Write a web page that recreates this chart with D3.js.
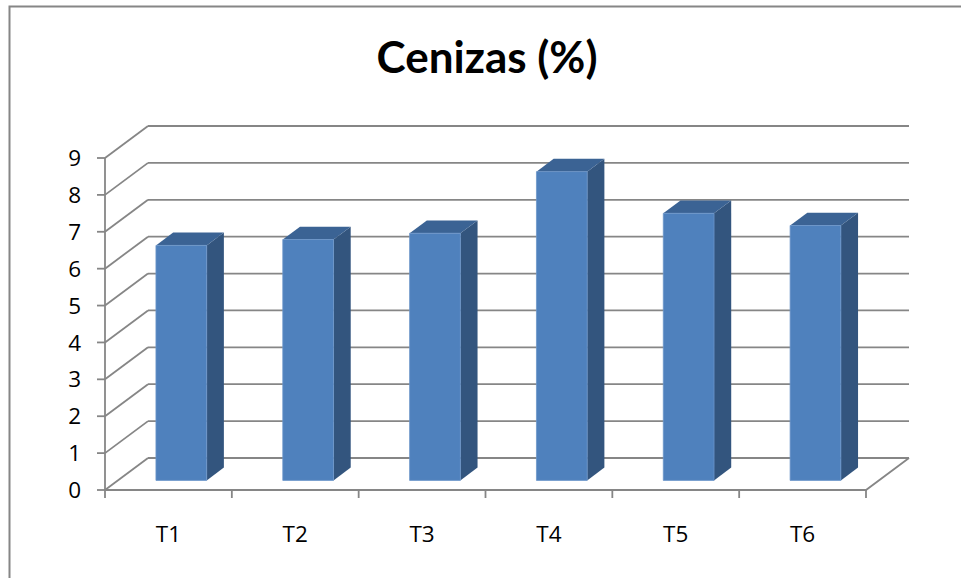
<!DOCTYPE html>
<html>
<head>
<meta charset="utf-8">
<script src="https://cdn.jsdelivr.net/npm/d3@7"></script>
<style>
  body { margin: 0; background: #fff; }
  svg { display: block; }
  text { font-family: "Open Sans", Lato, sans-serif; fill: #000; }
  .title { font-family: Lato, "Open Sans", sans-serif; }
</style>
</head>
<body>
<div id="chart"></div>
<script>
// ==================================================
// DATA
// ==================================================

var categories = ["T1", "T2", "T3", "T4", "T5", "T6"];
var cenizas    = [6.37, 6.53, 6.70, 8.37, 7.24, 6.91];
var yTicks     = [0, 1, 2, 3, 4, 5, 6, 7, 8, 9];
var chartTitle = "Cenizas (%)";

// ==================================================
// LAYOUT
// ==================================================

var width  = 961, height = 578;
var origin = { x: 105, y: 490 };      // front-left corner of the floor
var plotW  = 761;                     // front width of the floor
var plotH  = 332;                     // height from 0 to 9
var depth  = { dx: 43, dy: -32 };     // 3D depth offset
var barD0  = 0.3, barD1 = 0.7;        // bar depth span (fraction)

var svg = d3.select("#chart")
  .append("svg")
    .attr("width", width)
    .attr("height", height);

// Scales
var x = d3.scaleBand()
  .domain(categories)
  .range([0, plotW])
  .paddingInner(0.6)
  .paddingOuter(0.3);

var y = d3.scaleLinear()
  .domain([0, 9])
  .range([0, plotH]);

// project (front x, value, depth fraction) to screen
function P(xf, v, d) {
  return [origin.x + xf + d * depth.dx, origin.y + d * depth.dy - y(v)];
}
function poly(pts) {
  return "M" + pts.map(function(p) { return p.join(","); }).join("L") + "Z";
}

// Outer border
svg.append("rect")
  .attr("x", 9.5).attr("y", 6.5)
  .attr("width", 1000).attr("height", 700)
  .attr("fill", "none")
  .attr("stroke", "#868686")
  .attr("stroke-width", 2);

// Title
svg.append("text")
  .attr("class", "title")
  .attr("x", 487)
  .attr("y", 73)
  .attr("text-anchor", "middle")
  .attr("font-size", "44px")
  .attr("font-weight", "bold")
  .text(chartTitle);

var gridColor = "#868686";
var grid = svg.append("g")
  .attr("stroke", gridColor)
  .attr("stroke-width", 1.8)
  .attr("fill", "none");

// Back wall gridlines
grid.selectAll(".back")
  .data(yTicks)
  .enter()
  .append("line")
    .attr("class", "back")
    .attr("x1", function(v) { return P(0, v, 1)[0]; })
    .attr("y1", function(v) { return P(0, v, 1)[1]; })
    .attr("x2", function(v) { return P(plotW, v, 1)[0]; })
    .attr("y2", function(v) { return P(plotW, v, 1)[1]; });

// Side wall diagonals
grid.selectAll(".side")
  .data(yTicks)
  .enter()
  .append("line")
    .attr("class", "side")
    .attr("x1", function(v) { return P(0, v, 0)[0]; })
    .attr("y1", function(v) { return P(0, v, 0)[1]; })
    .attr("x2", function(v) { return P(0, v, 1)[0]; })
    .attr("y2", function(v) { return P(0, v, 1)[1]; });

// Floor front edge and right edge
grid.append("path")
  .attr("d", "M" + P(0, 0, 0).join(",") + "L" + P(plotW, 0, 0).join(",") +
             "L" + P(plotW, 0, 1).join(","));

// Vertical axis line
grid.append("line")
  .attr("x1", origin.x).attr("y1", P(0, 0, 0)[1])
  .attr("x2", origin.x).attr("y2", P(0, 9, 0)[1]);

// Y tick marks and labels
grid.selectAll(".ytick")
  .data(yTicks)
  .enter()
  .append("line")
    .attr("class", "ytick")
    .attr("x1", origin.x - 8).attr("x2", origin.x)
    .attr("y1", function(v) { return P(0, v, 0)[1]; })
    .attr("y2", function(v) { return P(0, v, 0)[1]; });

svg.selectAll(".ylabel")
  .data(yTicks)
  .enter()
  .append("text")
    .attr("class", "ylabel")
    .attr("x", 81)
    .attr("y", function(v) { return P(0, v, 0)[1]; })
    .attr("dy", "0.36em")
    .attr("text-anchor", "end")
    .attr("font-size", "22.5px")
    .text(function(v) { return v; });

// Category tick marks and labels
var step = x.step();
grid.selectAll(".xtick")
  .data(d3.range(categories.length + 1))
  .enter()
  .append("line")
    .attr("class", "xtick")
    .attr("x1", function(i) { return origin.x + i * step; })
    .attr("x2", function(i) { return origin.x + i * step; })
    .attr("y1", origin.y)
    .attr("y2", origin.y + 8);

svg.selectAll(".xlabel")
  .data(categories)
  .enter()
  .append("text")
    .attr("class", "xlabel")
    .attr("x", function(d) { return origin.x + x(d) + x.bandwidth() / 2; })
    .attr("y", 534)
    .attr("dy", "0.36em")
    .attr("text-anchor", "middle")
    .attr("font-size", "22.5px")
    .text(function(d) { return d; });

// ==================================================
// BARS
// ==================================================

var bars = svg.selectAll(".bar")
  .data(categories.map(function(c, i) { return { cat: c, val: cenizas[i] }; }))
  .enter()
  .append("g")
    .attr("class", "bar");

// right side face
bars.append("path")
  .attr("fill", "#33557e")
  .attr("d", function(d) {
    var x1 = x(d.cat) + x.bandwidth();
    return poly([P(x1, 0, barD0), P(x1, 0, barD1), P(x1, d.val, barD1), P(x1, d.val, barD0)]);
  });

// top face
bars.append("path")
  .attr("fill", "#3b6394")
  .attr("d", function(d) {
    var x0 = x(d.cat), x1 = x0 + x.bandwidth();
    return poly([P(x0, d.val, barD0), P(x1, d.val, barD0), P(x1, d.val, barD1), P(x0, d.val, barD1)]);
  });

// front face
bars.append("path")
  .attr("fill", "#4f81bd")
  .attr("stroke", "#6c96c9")
  .attr("stroke-width", 0.8)
  .attr("d", function(d) {
    var x0 = x(d.cat), x1 = x0 + x.bandwidth();
    return poly([P(x0, 0, barD0), P(x1, 0, barD0), P(x1, d.val, barD0), P(x0, d.val, barD0)]);
  });
</script>
</body>
</html>
